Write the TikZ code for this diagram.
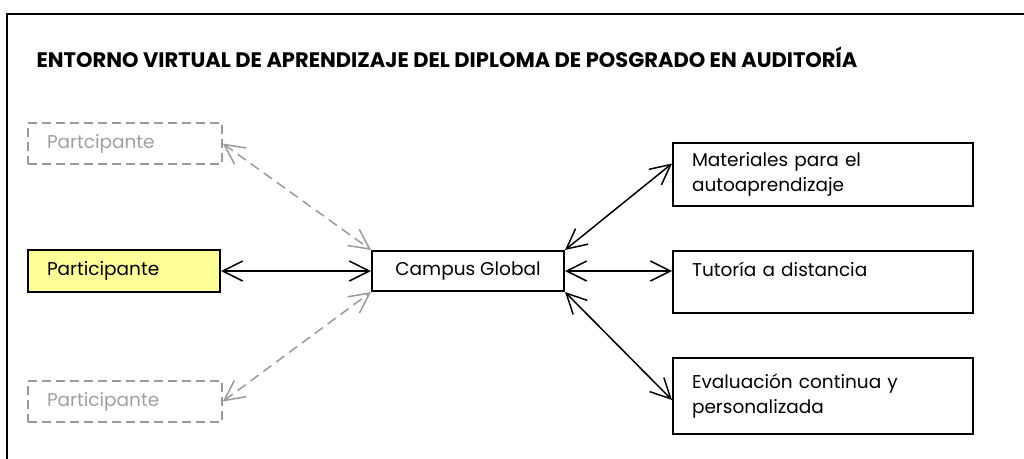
\documentclass[tikz,border=0pt]{standalone}
\usepackage{fontspec}
\setmainfont{Poppins}
\usetikzlibrary{arrows.meta,calc}
\definecolor{dgray}{HTML}{9A9A9A}
\definecolor{tgray}{HTML}{A0A0A0}
\definecolor{lyellow}{HTML}{FFFF99}
\begin{document}
\begin{tikzpicture}[x=1pt,y=-1pt,
  txt/.style={font=\fontsize{18.5}{25}\selectfont},
  box/.style={draw=black, line width=2pt, txt, inner xsep=19pt, inner ysep=0pt, align=left, anchor=center},
  ghost/.style={box, draw=dgray, text=tgray, dash pattern=on 9pt off 5pt, line width=1.6pt},
  wide/.style={box, minimum width=300pt, text width=262pt},
  link/.style={line width=1.5pt, {Straight Barb[length=20pt,width=20pt]}-{Straight Barb[length=20pt,width=20pt]}},
  glink/.style={link, draw=dgray, dash pattern=on 10pt off 6pt}
]
\useasboundingbox (0,0) rectangle (1024,458);
\clip (0,0) rectangle (1024,458);
\draw[line width=2pt] (7,470) -- (7,14) -- (1040,14);
\node[anchor=west, font=\bfseries\fontsize{21}{24}\selectfont] (title) at (33,57) {ENTORNO VIRTUAL DE APRENDIZAJE DEL DIPLOMA DE POSGRADO EN AUDITORÍA};

\node[ghost, minimum width=194pt, minimum height=41pt, text width=156pt] (ptop) at (125,143.5) {Partcipante};
\node[box, fill=lyellow, minimum width=192pt, minimum height=42pt, text width=154pt] (pmid) at (124,271) {Participante};
\node[ghost, minimum width=194pt, minimum height=41pt, text width=156pt] (pbot) at (125,401.5) {Participante};

\node[box, align=center, minimum width=192pt, minimum height=40pt, inner xsep=0pt] (campus) at (468,271) {Campus Global};

\node[wide, minimum height=63pt] (mat) at (823,174.5) {Materiales para el\\autoaprendizaje};
\node[wide, minimum height=62pt] (tut) at (823,282) {Tutoría a distancia\\\mbox{}};
\node[wide, minimum height=76pt] (eva) at (823,396) {Evaluación continua y\\personalizada};

\draw[glink] (ptop.east) -- (campus.north west);
\draw[glink] (pbot.east) -- (campus.south west);
\draw[link] (pmid.east) -- (campus.west);
\draw[link] (campus.north east) -- ($(mat.west)+(0,-11)$);
\draw[link] (campus.east) -- (tut.west |- campus.east);
\draw[link] (campus.south east) -- ($(eva.west)+(0,4)$);
\end{tikzpicture}
\end{document}
